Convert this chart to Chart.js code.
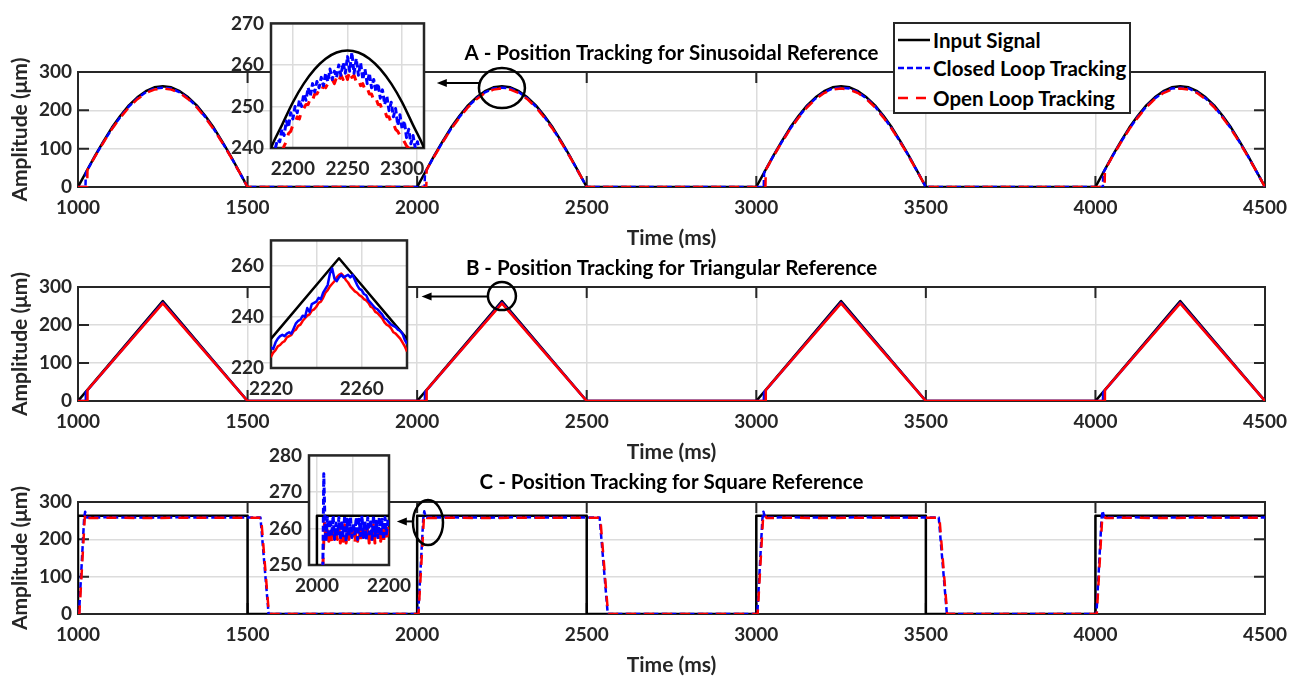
<!DOCTYPE html>
<html>
<head>
<meta charset="utf-8">
<title>Position Tracking</title>
<script src="https://cdn.jsdelivr.net/npm/chart.js@4.4.1/dist/chart.umd.min.js"></script>
<style>
  html, body { margin:0; padding:0; background:#ffffff; overflow:hidden; }
  #stage { position:relative; width:1298px; height:681px; overflow:hidden; background:#fff; }
  #stage canvas { position:absolute; }
  #legend { position:absolute; left:893px; top:22px; width:238px; height:92px; box-sizing:border-box;
            border:2px solid #262626; background:#fff; font-family:Lato, 'Liberation Sans', sans-serif;
            font-weight:bold; font-size:20.5px; color:#000; }
  #legend .row { position:absolute; left:3px; height:26px; display:flex; align-items:center; white-space:nowrap; }
  #legend svg { display:block; margin-right:3px; }
</style>
</head>
<body>
<div id="stage">
  <canvas id="mainA"></canvas>
  <canvas id="mainB"></canvas>
  <canvas id="mainC"></canvas>
  <canvas id="insetA"></canvas>
  <canvas id="insetB"></canvas>
  <canvas id="insetC"></canvas>
  <div id="legend"></div>
</div>
<script>
// ================= DATA =================
const seriesNames = ['Input Signal', 'Closed Loop Tracking', 'Open Loop Tracking'];
const panelTitles = ['A - Position Tracking for Sinusoidal Reference',
                     'B - Position Tracking for Triangular Reference',
                     'C - Position Tracking for Square Reference'];
const xAxisTitle = 'Time (ms)';
const yAxisTitle = 'Amplitude (\u03BCm)';
const mainTicksX = [1000, 1500, 2000, 2500, 3000, 3500, 4000, 4500];
const mainTicksY = [0, 100, 200, 300];

// ---- A: sinusoidal reference ----
const sineInputTime = [
  1000,1025,1050,1075,1100,1125,1150,1175,1200,1225,1250,1275,1300,1325,1350,1375,1400,1425,1450,1475,1500,
  2000,2025,2050,2075,2100,2125,2150,2175,2200,2225,2250,2275,2300,2325,2350,2375,2400,2425,2450,2475,2500,
  3000,3025,3050,3075,3100,3125,3150,3175,3200,3225,3250,3275,3300,3325,3350,3375,3400,3425,3450,3475,3500,
  4000,4025,4050,4075,4100,4125,4150,4175,4200,4225,4250,4275,4300,4325,4350,4375,4400,4425,4450,4475,4500];
const sineInput = [
  0,41,81,119,155,186,213,234,250,260,263,260,250,234,213,186,155,119,81,41,0,
  0,41,81,119,155,186,213,234,250,260,263,260,250,234,213,186,155,119,81,41,0,
  0,41,81,119,155,186,213,234,250,260,263,260,250,234,213,186,155,119,81,41,0,
  0,41,81,119,155,186,213,234,250,260,263,260,250,234,213,186,155,119,81,41,0];
const sineClosedTime = [
  1000,1022,1023,1025,1050,1075,1100,1125,1150,1175,1200,1225,1250,1275,1300,1325,1350,1375,1400,1425,1450,1475,1500,
  2000,2022,2023,2025,2050,2075,2100,2125,2150,2175,2200,2225,2250,2275,2300,2325,2350,2375,2400,2425,2450,2475,2500,
  3000,3022,3023,3025,3050,3075,3100,3125,3150,3175,3200,3225,3250,3275,3300,3325,3350,3375,3400,3425,3450,3475,3500,
  4000,4022,4023,4025,4050,4075,4100,4125,4150,4175,4200,4225,4250,4275,4300,4325,4350,4375,4400,4425,4450,4475,4500];
const sineClosed = [
  0,0,36,40,80,117,152,183,210,231,247,257,259,257,247,231,210,183,152,117,80,40,0,
  0,0,36,40,80,117,152,183,210,231,247,257,259,257,247,231,210,183,152,117,80,40,0,
  0,0,36,40,80,117,152,183,210,231,247,257,259,257,247,231,210,183,152,117,80,40,0,
  0,0,36,40,80,117,152,183,210,231,247,257,259,257,247,231,210,183,152,117,80,40,0];
const sineOpenTime = [
  1000,1027,1028,1050,1075,1100,1125,1150,1175,1200,1225,1250,1275,1300,1325,1350,1375,1400,1425,1450,1475,1500,
  2000,2027,2028,2050,2075,2100,2125,2150,2175,2200,2225,2250,2275,2300,2325,2350,2375,2400,2425,2450,2475,2500,
  3000,3027,3028,3050,3075,3100,3125,3150,3175,3200,3225,3250,3275,3300,3325,3350,3375,3400,3425,3450,3475,3500,
  4000,4027,4028,4050,4075,4100,4125,4150,4175,4200,4225,4250,4275,4300,4325,4350,4375,4400,4425,4450,4475,4500];
const sineOpen = [
  0,0,45,79,116,151,181,208,229,245,254,257,254,245,229,208,181,151,116,79,40,0,
  0,0,45,79,116,151,181,208,229,245,254,257,254,245,229,208,181,151,116,79,40,0,
  0,0,45,79,116,151,181,208,229,245,254,257,254,245,229,208,181,151,116,79,40,0,
  0,0,45,79,116,151,181,208,229,245,254,257,254,245,229,208,181,151,116,79,40,0];

// zoomed detail around the 2250 ms peak (inset A)
const sineZoomInputTime = [2170,2180,2190,2200,2210,2220,2230,2240,2250,2260,2270,2280,2290,2300,2310,2320,2330];
const sineZoomInput = [232,240,245.5,251,255.5,259,261.5,263,263.5,263,261.5,259,255.5,251,245.5,240,232];
const sineZoomClosedTime = [
  2184,2186,2188,2190,2192,2194,2196,2198,2200,2202,2204,2206,2208,2210,2212,2214,2216,2218,2220,2222,
  2224,2226,2228,2230,2232,2234,2236,2238,2240,2242,2244,2246,2248,2250,2252,2254,2256,2258,2260,2262,
  2264,2266,2268,2270,2272,2274,2276,2278,2280,2282,2284,2286,2288,2290,2292,2294,2296,2298,2300,2302,
  2304,2306,2308,2310,2312,2314,2316];
const sineZoomClosed = [
  240.0,242.0,241.5,244.5,243.0,246.5,245.0,248.5,247.0,250.0,248.5,251.5,250.0,253.0,251.5,254.5,252.5,255.5,253.5,256.0,
  254.5,257.0,255.0,258.0,256.0,259.0,256.5,258.5,257.0,260.0,257.5,260.5,258.0,262.0,258.5,263.0,258.0,261.5,257.5,260.5,
  256.5,259.0,255.5,258.0,254.5,256.5,253.5,255.5,252.0,254.0,250.5,252.5,249.0,251.0,247.5,249.5,245.5,248.0,244.5,246.5,
  242.5,244.5,241.0,243.0,240.0,241.5,239.0];
const sineZoomOpenTime = [
  2190,2192,2194,2196,2198,2200,2202,2204,2206,2208,2210,2212,2214,2216,2218,2220,2222,2224,2226,2228,
  2230,2232,2234,2236,2238,2240,2242,2244,2246,2248,2250,2252,2254,2256,2258,2260,2262,2264,2266,2268,
  2270,2272,2274,2276,2278,2280,2282,2284,2286,2288,2290,2292,2294,2296,2298,2300,2302,2304,2306,2308];
const sineZoomOpen = [
  239.0,240.5,241.5,243.5,244.0,245.5,246.0,247.5,247.0,249.0,249.5,250.5,250.5,252.0,251.5,253.0,253.0,254.0,253.5,255.0,
  254.5,255.5,255.5,256.5,255.5,257.0,256.0,257.5,256.5,258.0,256.5,258.5,257.0,257.5,256.0,256.5,255.0,255.5,254.0,254.5,
  253.0,253.0,251.5,252.0,250.5,250.5,249.0,249.0,247.5,247.5,246.0,246.0,244.5,244.0,243.0,242.5,241.5,240.5,240.0,239.0];

// ---- B: triangular reference ----
const triInputTime = [1000,1250,1500,2000,2250,2500,3000,3250,3500,4000,4250,4500];
const triInput     = [0,263,0,0,263,0,0,263,0,0,263,0];
const triClosedTime = [1000,1022,1023,1250,1500,2000,2022,2023,2250,2500,3000,3022,3023,3250,3500,4000,4022,4023,4250,4500];
const triClosed     = [0,0,23,259,0,0,0,23,259,0,0,0,23,259,0,0,0,23,259,0];
const triOpenTime = [1000,1027,1028,1250,1500,2000,2027,2028,2250,2500,3000,3027,3028,3250,3500,4000,4027,4028,4250,4500];
const triOpen     = [0,0,29,257,0,0,0,29,257,0,0,0,29,257,0,0,0,29,257,0];

// zoomed detail around the 2250 ms apex (inset B)
const triZoomTime = [
  2218,2219,2220,2221,2222,2223,2224,2225,2226,2227,2228,2229,2230,2231,2232,2233,2234,2235,2236,2237,
  2238,2239,2240,2241,2242,2243,2244,2245,2246,2247,2248,2249,2250,2251,2252,2253,2254,2255,2256,2257,
  2258,2259,2260,2261,2262,2263,2264,2265,2266,2267,2268,2269,2270,2271,2272,2273,2274,2275,2276,2277,
  2278,2279,2280,2281,2282];
const triZoomClosed = [
  226.5,227.0,228.0,227.5,230.0,231.5,232.5,233.0,232.5,233.5,234.0,233.5,235.5,237.5,238.5,239.0,240.5,240.0,243.5,242.0,
  245.0,245.5,246.0,247.5,247.0,249.5,251.0,252.5,257.0,259.0,255.0,254.0,255.5,256.5,255.5,256.0,256.5,255.5,256.5,254.5,
  252.5,251.0,250.5,249.0,248.5,246.5,245.5,244.5,243.5,243.0,242.0,241.0,239.5,239.0,238.0,237.0,236.5,236.0,235.0,234.5,
  233.5,231.0,229.5,231.5,228.0];
const triZoomOpen = [
  222.5,224.0,224.5,226.0,227.0,228.5,229.0,230.0,230.5,232.0,232.5,233.0,234.5,235.0,236.5,237.0,238.5,239.5,240.5,241.0,
  242.5,243.0,244.0,245.5,246.0,247.5,249.5,250.5,252.0,253.0,254.0,255.5,256.5,257.0,256.0,254.5,253.5,252.0,251.0,250.0,
  249.5,248.5,248.0,247.0,246.5,245.5,244.0,243.5,242.0,241.5,240.5,239.5,238.0,237.0,236.5,235.5,234.0,233.5,232.5,231.5,
  230.0,228.5,226.5,225.5,224.0];

// ---- C: square reference ----
const sqInputTime = [1000,1000,1500,1500,2000,2000,2500,2500,3000,3000,3500,3500,4000,4000,4500];
const sqInput     = [0,263.5,263.5,0,0,263.5,263.5,0,0,263.5,263.5,0,0,263.5,263.5];
const sqClosedTime = [
  1000,1003,1018,1021,1026,1100,1200,1300,1400,1538,1562,
  2000,2003,2018,2021,2026,2100,2200,2300,2400,2538,2562,
  3000,3003,3018,3021,3026,3100,3200,3300,3400,3538,3562,
  4000,4003,4018,4021,4026,4100,4200,4300,4400,4500];
const sqClosed = [
  0,0,255,274,258.5,259,258,259,258.5,258.5,0,
  0,0,255,275,258.5,259,258,259,258.5,258.5,0,
  0,0,255,274,258.5,259,258,259,258.5,258.5,0,
  0,0,255,276,258.5,259,258,259,258.5,258.5];
const sqOpenTime = [
  1000,1004,1020,1024,1030,1100,1200,1300,1400,1540,1563,
  2000,2004,2020,2024,2030,2100,2200,2300,2400,2540,2563,
  3000,3004,3020,3024,3030,3100,3200,3300,3400,3540,3563,
  4000,4004,4020,4024,4030,4100,4200,4300,4400,4500];
const sqOpen = [
  0,0,258,270,257,258,257,258,257.5,257.5,0,
  0,0,258,266,257,258,257,258,257.5,257.5,0,
  0,0,258,268,257,258,257,258,257.5,257.5,0,
  0,0,258,264,257,258,257,258,257.5,257.5];

// zoomed detail of the 2000 ms rising edge (inset C)
const sqZoomClosedTime = [2010,2016,2019,2022,2025,
  2029,2033,2037,2041,2045,2049,2053,2057,2061,2065,2069,2073,2077,2081,2085,2089,2093,2097,2101,2105,
  2109,2113,2117,2121,2125,2129,2133,2137,2141,2145,2149,2153,2157,2161,2165,2169,2173,2177,2181,2185,
  2189,2193,2197,2200];
const sqZoomClosed = [200,245,275,263,256.5,
  263,257.5,262.5,258,263.5,257,261.5,258.5,263,257,262,258,263.5,256.5,262.5,258,263,257.5,261.5,258.5,
  263,257,262.5,258,263.5,257.5,262,257,263,258.5,262.5,257,263.5,258,262,257.5,263,258,262.5,257,
  263,258.5,262,263];
const sqZoomOpenTime = [2010,2016,2021,2025,
  2029,2033,2037,2041,2045,2049,2053,2057,2061,2065,2069,2073,2077,2081,2085,2089,2093,2097,2101,2105,
  2109,2113,2117,2121,2125,2129,2133,2137,2141,2145,2149,2153,2157,2161,2165,2169,2173,2177,2181,2185,
  2189,2193,2197,2200];
const sqZoomOpen = [200,248,262,256,
  259.5,256.5,260,256,261,256.5,259,257,260.5,256,259.5,256.5,261,256,259,257,260,256.5,261.5,256,
  259.5,256.5,260,256,261,257,259.5,256.5,260.5,256,259,256.5,261,256,260,257,259.5,256.5,260.5,256,
  261,256.5,259.5,262];

// inset axes ticks
const insetATicksX = [2200, 2250, 2300], insetALabelsX = ['2200', '2250', '2300'];
const insetATicksY = [240, 250, 260, 270], insetALabelsY = ['240', '250', '260', '270'];
const insetBTicksX = [2220, 2240, 2260, 2280], insetBLabelsX = ['2220', '', '2260', ''];
const insetBTicksY = [220, 240, 260], insetBLabelsY = ['220', '240', '260'];
const insetCTicksX = [2000, 2100, 2200], insetCLabelsX = ['2000', '', '2200'];
const insetCTicksY = [250, 260, 270, 280], insetCLabelsY = ['250', '260', '270', '280'];

// ================= STYLE =================
const FONT_FAMILY = "Lato, 'Liberation Sans', sans-serif";
const SZ_TICK = 19, SZ_TITLE = 20.5, SZ_AXIS = 21;
const TEXT_DARK = '#262626';
const GRID_COLOR = '#dcdcdc';
const BOX_COLOR = '#262626';
const BLACK = '#000000', BLUE = '#0000ff', RED = '#ff0000';
const DASH_CLOSED = [6, 3];
const DASH_OPEN = [10, 8];

function pts(ts, vs) { return ts.map((t, i) => ({ x: t, y: vs[i] })); }
function font(size) { return { family: FONT_FAMILY, size: size, weight: 'bold', lineHeight: 1.2 }; }
function half(size) { return size * 0.6; }

function lineDs(label, ts, vs, color, width, dash, order, extra) {
  return Object.assign({
    label: label, data: pts(ts, vs), borderColor: color, backgroundColor: color,
    borderWidth: width, borderDash: dash || [], order: order, fill: false,
    pointRadius: 0, tension: 0, borderJoinStyle: 'round', borderCapStyle: 'butt'
  }, extra || {});
}

// white plot background, axes box and inward ticks drawn beneath the data (as MATLAB does)
function framePlugin(tickLen, boxWidth) {
  return {
    id: 'frame',
    beforeDraw(chart) {
      const { ctx, chartArea: a } = chart;
      ctx.save(); ctx.fillStyle = '#ffffff';
      ctx.fillRect(a.left, a.top, a.right - a.left, a.bottom - a.top);
      ctx.restore();
    },
    beforeDatasetsDraw(chart) {
      const { ctx, chartArea: a, scales } = chart;
      const x = scales.x, y = scales.y;
      ctx.save();
      ctx.strokeStyle = BOX_COLOR;
      if (tickLen) {
        ctx.lineWidth = 2;
        ctx.beginPath();
        x.ticks.forEach(t => {
          const p = x.getPixelForValue(t.value);
          ctx.moveTo(p, a.bottom); ctx.lineTo(p, a.bottom - tickLen);
          ctx.moveTo(p, a.top); ctx.lineTo(p, a.top + tickLen);
        });
        y.ticks.forEach(t => {
          const p = y.getPixelForValue(t.value);
          ctx.moveTo(a.left, p); ctx.lineTo(a.left + tickLen, p);
          ctx.moveTo(a.right, p); ctx.lineTo(a.right - tickLen, p);
        });
        ctx.stroke();
      }
      ctx.lineWidth = boxWidth;
      ctx.strokeRect(a.left, a.top, a.right - a.left, a.bottom - a.top);
      ctx.restore();
    }
  };
}

function calloutPlugin(c) {
  return {
    id: 'callout',
    afterDraw(chart) {
      const { ctx, scales } = chart;
      const x = scales.x, y = scales.y;
      const cx = x.getPixelForValue(c.cx), cy = y.getPixelForValue(c.cy);
      const tip = x.getPixelForValue(c.tipX), ay = y.getPixelForValue(c.arrowY);
      ctx.save();
      ctx.strokeStyle = '#000'; ctx.fillStyle = '#000';
      ctx.lineWidth = 2.5;
      ctx.beginPath(); ctx.ellipse(cx, cy, c.rx, c.ry, 0, 0, Math.PI * 2); ctx.stroke();
      const dy = (ay - cy) / c.ry;
      const tail = cx - c.rx * Math.sqrt(Math.max(0, 1 - dy * dy));
      ctx.lineWidth = 2;
      ctx.beginPath(); ctx.moveTo(tail, ay); ctx.lineTo(tip + 6, ay); ctx.stroke();
      ctx.beginPath(); ctx.moveTo(tip, ay); ctx.lineTo(tip + 10, ay - 4); ctx.lineTo(tip + 10, ay + 4); ctx.closePath(); ctx.fill();
      ctx.restore();
    }
  };
}

function axisCommon() {
  return {
    grid: { color: GRID_COLOR, lineWidth: 1.5, drawTicks: false },
    border: { display: false }
  };
}

function makeMain(id, o) {
  const cv = document.getElementById(id);
  const xH = 73;
  cv.width = 1298; cv.height = o.areaBottom - o.canvasTop + xH;
  cv.style.left = '0px'; cv.style.top = o.canvasTop + 'px';
  new Chart(cv, {
    type: 'line',
    data: { datasets: o.datasets },
    options: {
      responsive: false, animation: false, events: [],
      layout: { padding: { top: o.areaTop - o.canvasTop - o.titleGap - half(SZ_TITLE), right: 33, left: 0, bottom: 0 } },
      plugins: {
        legend: { display: false }, tooltip: { enabled: false },
        title: { display: true, text: o.title, fullSize: false, color: '#000', font: font(SZ_TITLE),
                 padding: { top: 0, bottom: o.titleGap - half(SZ_TITLE) } }
      },
      scales: {
        x: Object.assign(axisCommon(), {
          type: 'linear', min: 1000, max: 4500,
          afterBuildTicks: s => { s.ticks = mainTicksX.map(v => ({ value: v })); },
          afterFit: s => { s.height = xH; },
          ticks: { padding: 21 - half(SZ_TICK), color: TEXT_DARK, font: font(SZ_TICK), autoSkip: false, maxRotation: 0, callback: v => String(v) },
          title: { display: true, text: xAxisTitle, color: TEXT_DARK, font: font(SZ_AXIS), padding: { top: 0, bottom: 22 - half(SZ_AXIS) } }
        }),
        y: Object.assign(axisCommon(), {
          type: 'linear', min: 0, max: 300,
          afterBuildTicks: s => { s.ticks = mainTicksY.map(v => ({ value: v })); },
          afterFit: s => { s.width = 78; },
          ticks: { padding: 6, color: TEXT_DARK, font: font(SZ_TICK), autoSkip: false, callback: v => String(v) },
          title: { display: true, text: yAxisTitle, color: TEXT_DARK, font: font(SZ_AXIS), padding: { top: 20 - half(SZ_AXIS), bottom: 0 } }
        })
      }
    },
    plugins: [framePlugin(11, 2), calloutPlugin(o.callout)]
  });
}

function makeInset(id, o) {
  const padL = 62, padT = 14, padR = 32, padB = 38;
  const cv = document.getElementById(id);
  cv.width = (o.box.r - o.box.l) + padL + padR;
  cv.height = (o.box.b - o.box.t) + padT + padB;
  cv.style.left = (o.box.l - padL) + 'px'; cv.style.top = (o.box.t - padT) + 'px';
  new Chart(cv, {
    type: 'line',
    data: { datasets: o.datasets },
    options: {
      responsive: false, animation: false, events: [],
      layout: { padding: { top: padT, right: padR, left: 0, bottom: 0 } },
      plugins: { legend: { display: false }, tooltip: { enabled: false }, title: { display: false } },
      scales: {
        x: Object.assign(axisCommon(), {
          type: 'linear', min: o.xMin, max: o.xMax,
          afterBuildTicks: s => { s.ticks = o.xTicks.map(v => ({ value: v })); },
          afterFit: s => { s.height = padB; },
          ticks: { padding: 21 - half(SZ_TICK), color: TEXT_DARK, font: font(SZ_TICK), autoSkip: false, maxRotation: 0, callback: (v, i) => o.xLabels[i] }
        }),
        y: Object.assign(axisCommon(), {
          type: 'linear', min: o.yMin, max: o.yMax,
          afterBuildTicks: s => { s.ticks = o.yTicks.map(v => ({ value: v })); },
          afterFit: s => { s.width = padL; },
          ticks: { padding: 7, color: TEXT_DARK, font: font(SZ_TICK), autoSkip: false, callback: (v, i) => o.yLabels[i] }
        })
      }
    },
    plugins: [framePlugin(0, 2.5)]
  });
}

function buildLegend() {
  const lg = document.getElementById('legend');
  const styles = [
    { color: BLACK, dash: '' },
    { color: BLUE, dash: DASH_CLOSED.join(',') },
    { color: RED, dash: DASH_OPEN.join(',') }
  ];
  const tops = [3, 31, 61];
  seriesNames.forEach((name, i) => {
    const row = document.createElement('div');
    row.className = 'row';
    row.style.top = tops[i] + 'px';
    row.innerHTML = '<svg width="32" height="10"><line x1="0" y1="5" x2="32" y2="5" stroke="' + styles[i].color +
      '" stroke-width="2.5"' + (styles[i].dash ? ' stroke-dasharray="' + styles[i].dash + '"' : '') + '/></svg>';
    const sp = document.createElement('span');
    sp.textContent = name;
    row.appendChild(sp);
    lg.appendChild(row);
  });
}

function draw() {
  Chart.defaults.font.family = FONT_FAMILY;

  makeMain('mainA', {
    title: panelTitles[0], canvasTop: 0, areaTop: 72, areaBottom: 187, titleGap: 19,
    callout: { cx: 2250, cy: 258, rx: 23, ry: 20, tipX: 2058, arrowY: 271 },
    datasets: [
      lineDs(seriesNames[0], sineInputTime, sineInput, BLACK, 2.5, null, 3),
      lineDs(seriesNames[1], sineClosedTime, sineClosed, BLUE, 2.5, DASH_CLOSED, 2),
      lineDs(seriesNames[2], sineOpenTime, sineOpen, RED, 2.5, DASH_OPEN, 1)
    ]
  });
  makeMain('mainB', {
    title: panelTitles[1], canvasTop: 200, areaTop: 287, areaBottom: 401, titleGap: 19,
    callout: { cx: 2250, cy: 276, rx: 14, ry: 14, tipX: 2013, arrowY: 275 },
    datasets: [
      lineDs(seriesNames[0], triInputTime, triInput, BLACK, 2.5, null, 3),
      lineDs(seriesNames[1], triClosedTime, triClosed, BLUE, 2.5, null, 2),
      lineDs(seriesNames[2], triOpenTime, triOpen, RED, 2.5, null, 1)
    ]
  });
  makeMain('mainC', {
    title: panelTitles[2], canvasTop: 420, areaTop: 502, areaBottom: 614, titleGap: 20,
    callout: { cx: 2032, cy: 245, rx: 15, ry: 22.5, tipX: 1940, arrowY: 248 },
    datasets: [
      lineDs(seriesNames[0], sqInputTime, sqInput, BLACK, 2.5, null, 3),
      lineDs(seriesNames[1], sqClosedTime, sqClosed, BLUE, 2.5, DASH_CLOSED, 2),
      lineDs(seriesNames[2], sqOpenTime, sqOpen, RED, 2.5, DASH_OPEN, 1)
    ]
  });

  makeInset('insetA', {
    box: { l: 271, t: 19, r: 424, b: 148 }, xMin: 2180, xMax: 2320, yMin: 240, yMax: 270,
    xTicks: insetATicksX, xLabels: insetALabelsX, yTicks: insetATicksY, yLabels: insetALabelsY,
    datasets: [
      lineDs(seriesNames[0], sineZoomInputTime, sineZoomInput, BLACK, 2.5, null, 3, { cubicInterpolationMode: 'monotone' }),
      lineDs(seriesNames[1], sineZoomClosedTime, sineZoomClosed, BLUE, 3, DASH_CLOSED, 1),
      lineDs(seriesNames[2], sineZoomOpenTime, sineZoomOpen, RED, 3, DASH_OPEN, 2)
    ]
  });
  makeInset('insetB', {
    box: { l: 271, t: 236, r: 407, b: 368 }, xMin: 2220, xMax: 2280, yMin: 220, yMax: 270,
    xTicks: insetBTicksX, xLabels: insetBLabelsX, yTicks: insetBTicksY, yLabels: insetBLabelsY,
    datasets: [
      lineDs(seriesNames[0], triInputTime, triInput, BLACK, 2.5, null, 3),
      lineDs(seriesNames[1], triZoomTime, triZoomClosed, BLUE, 2.5, null, 1),
      lineDs(seriesNames[2], triZoomTime, triZoomOpen, RED, 2.5, null, 2)
    ]
  });
  makeInset('insetC', {
    box: { l: 309, t: 451, r: 389, b: 565 }, xMin: 1978, xMax: 2200, yMin: 250, yMax: 280,
    xTicks: insetCTicksX, xLabels: insetCLabelsX, yTicks: insetCTicksY, yLabels: insetCLabelsY,
    datasets: [
      lineDs(seriesNames[0], sqInputTime, sqInput, BLACK, 2.5, null, 3),
      lineDs(seriesNames[1], sqZoomClosedTime, sqZoomClosed, BLUE, 3, DASH_CLOSED, 1),
      lineDs(seriesNames[2], sqZoomOpenTime, sqZoomOpen, RED, 3, DASH_OPEN, 2)
    ]
  });

  buildLegend();
}

if (document.fonts && document.fonts.load) {
  document.fonts.load('bold 20px Lato').then(draw, draw);
} else {
  draw();
}
</script>
</body>
</html>
